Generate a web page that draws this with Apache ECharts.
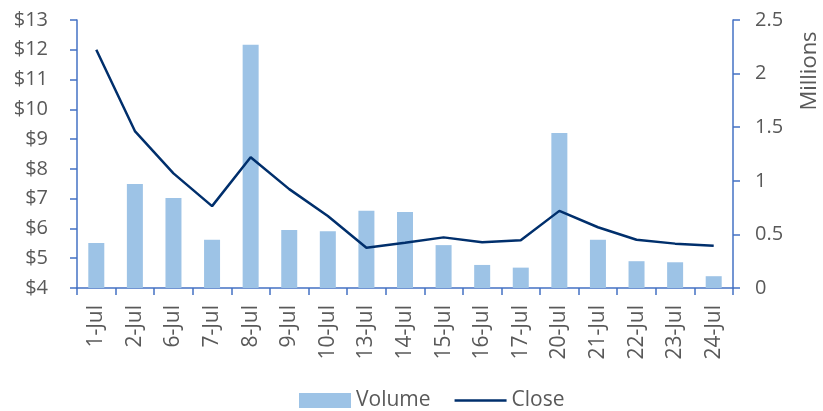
<!DOCTYPE html>
<html>
<head>
<meta charset="utf-8">
<script src="https://cdn.jsdelivr.net/npm/echarts@6/dist/echarts.min.js"></script>
<style>
  html, body { margin: 0; padding: 0; background: #fff; }
  #chart { width: 823px; height: 411px; }
</style>
</head>
<body>
<div id="chart"></div>
<script>
var dates = ["1-Jul", "2-Jul", "6-Jul", "7-Jul", "8-Jul", "9-Jul", "10-Jul", "13-Jul", "14-Jul",
  "15-Jul", "16-Jul", "17-Jul", "20-Jul", "21-Jul", "22-Jul", "23-Jul", "24-Jul"];
// volume in millions
var volume = [0.42, 0.97, 0.84, 0.45, 2.27, 0.54, 0.53, 0.72, 0.71,
  0.40, 0.215, 0.19, 1.446, 0.45, 0.25, 0.24, 0.11];
var close = [12.0, 9.27, 7.85, 6.75, 8.39, 7.32, 6.42, 5.35, 5.52,
  5.70, 5.54, 5.60, 6.59, 6.04, 5.62, 5.49, 5.42];

var font = "Open Sans";
var axisBlue = "#4472C4";
var textGrey = "#595959";

var chartDom = document.getElementById("chart");
var myChart = echarts.init(chartDom);
var option = {
  animation: false,
  textStyle: { fontFamily: font },
  grid: { left: 77, right: 90, top: 20, bottom: 123 },
  legend: {
    top: 385,
    left: 294,
    itemGap: 24,
    itemWidth: 52,
    itemHeight: 15,
    textStyle: { fontSize: 21, color: textGrey, fontFamily: font },
    data: [
      { name: "Volume", icon: "rect" },
      { name: "Close", icon: "path://M0,0H52V2.5H0Z" }
    ]
  },
  xAxis: {
    type: "category",
    data: dates,
    axisLine: { lineStyle: { color: axisBlue, width: 1.5 } },
    axisTick: { show: true, length: 7, lineStyle: { color: axisBlue, width: 1.5 } },
    axisLabel: { rotate: 90, margin: 17, fontSize: 21, color: textGrey, fontFamily: font }
  },
  yAxis: [
    {
      type: "value",
      min: 4,
      max: 13,
      interval: 1,
      axisLine: { show: true, lineStyle: { color: axisBlue, width: 1.5 } },
      axisTick: { show: true, length: 7, lineStyle: { color: axisBlue, width: 1.5 } },
      splitLine: { show: false },
      axisLabel: { formatter: "${value}", margin: 29, fontSize: 20, color: textGrey, fontFamily: font }
    },
    {
      type: "value",
      min: 0,
      max: 2.5,
      interval: 0.5,
      position: "right",
      axisLine: { show: true, lineStyle: { color: axisBlue, width: 1.5 } },
      axisTick: { show: true, length: 7, lineStyle: { color: axisBlue, width: 1.5 } },
      splitLine: { show: false },
      axisLabel: { margin: 22, fontSize: 20, color: textGrey, fontFamily: font }
    }
  ],
  graphic: [
    {
      type: "text",
      x: 810,
      y: 71,
      rotation: Math.PI / 2,
      style: {
        text: "Millions",
        fontSize: 22,
        fontFamily: font,
        fill: textGrey,
        align: "center",
        verticalAlign: "middle"
      }
    }
  ],
  series: [
    {
      name: "Volume",
      type: "bar",
      yAxisIndex: 1,
      barWidth: 16,
      itemStyle: { color: "#9DC3E6" },
      data: volume
    },
    {
      name: "Close",
      type: "line",
      yAxisIndex: 0,
      showSymbol: false,
      symbol: "none",
      lineStyle: { color: "#002F6C", width: 2.5 },
      itemStyle: { color: "#002F6C" },
      data: close
    }
  ]
};

myChart.setOption(option);
window.addEventListener("resize", myChart.resize);
</script>
</body>
</html>
